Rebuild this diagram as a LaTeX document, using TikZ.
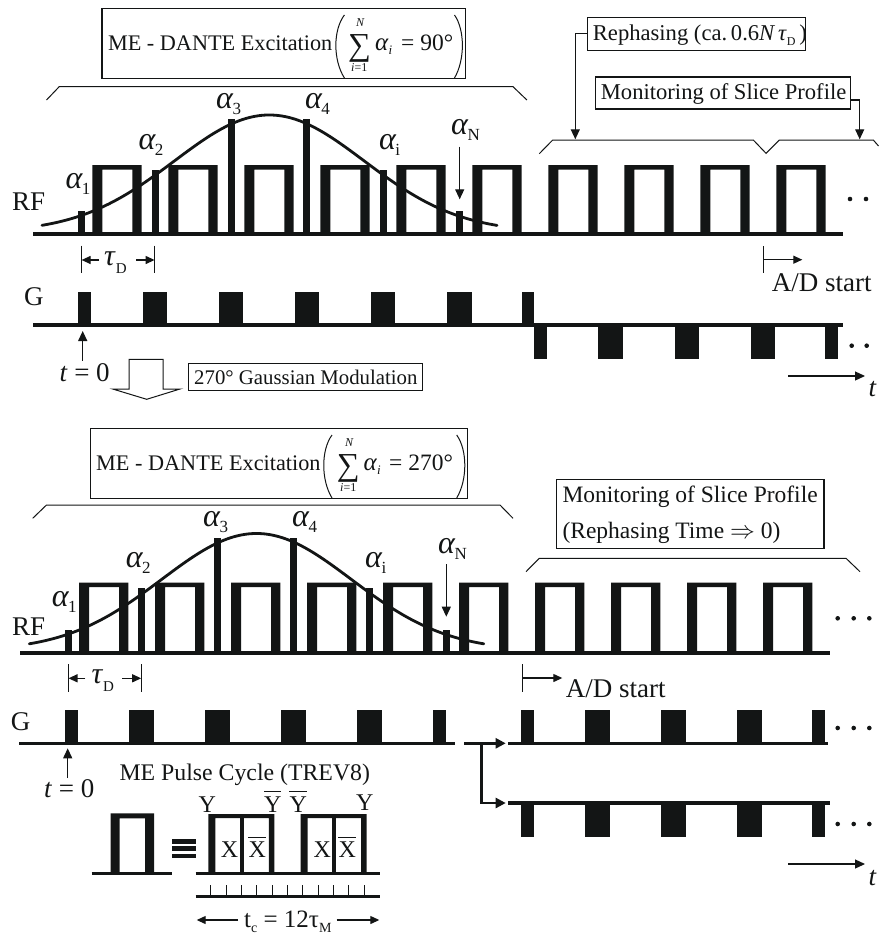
\documentclass[tikz,border=0pt]{standalone}
\usepackage{fontspec}
\setmainfont{Liberation Serif}
\usetikzlibrary{arrows.meta}
\definecolor{ink}{HTML}{131515}
\newcommand{\fs}[1]{\fontsize{#1}{#1}\selectfont}
\newcommand{\alf}[1]{\fs{32}\textit{α}\raisebox{-6pt}{\fs{17}\kern-1pt #1}}
\newcommand{\taud}{\fs{30}\textit{τ}\raisebox{-8pt}{\fs{15}D}}
\newcommand{\rfcell}[3]{\fill[ink,even odd rule] (#1,#2) rectangle (#1+49.4,#3) (#1+10,#2) rectangle (#1+40,#3+4.5);}
\tikzset{
 lab/.style={inner sep=0,anchor=base west,text=ink},
 t22/.style={lab,font=\fs{22.6}},
 t23/.style={lab,font=\fs{23.5}},
 t26/.style={lab,font=\fs{27}},
 t24/.style={lab,font=\fs{24}},
 framed/.style={draw=ink,line width=1.1pt,inner sep=0,fill=white},
 thin line/.style={draw=ink,line width=1pt},
 rail/.style={draw=ink,line width=3.6pt},
 tiparrow/.style={draw=ink,line width=1.2pt,-{Triangle[length=10pt,width=9pt]}},
 smalltip/.style={draw=ink,line width=1.2pt,-{Triangle[length=9pt,width=8pt]}},
 paren/.style={draw=ink,line width=1pt},
 gauss/.style={draw=ink,line width=2.8pt,line cap=round},
 dotmark/.style={fill=ink,circle,inner sep=0,minimum size=4.6pt},
}
\begin{document}
\begin{tikzpicture}[x=1pt,y=-1pt]
\useasboundingbox (0,0) rectangle (879,937);
% ---------- TOP ----------
\node[framed,minimum width=363.6pt,minimum height=70.4pt] (exc1) at (283.8,43.5) {};
\node[lab,font=\fs{22.25}] (exc1t) at (107.8,50) {ME - DANTE Excitation};
\node[lab,font=\fs{32}] (sum1) at (348,55.5) {∑};
\node[lab,font=\fs{12}\itshape] (sumN1) at (356,26.5) {N};
\node[lab,font=\fs{12}] (sumi1) at (351,71.5) {\textit{i}=1};
\node[lab,font=\fs{25}] (ai1) at (375,50) {\textit{α}\raisebox{-4pt}{\fs{13}\textit{i}}};
\node[t23] (eq1) at (401,50) {= 90°};
\draw[paren] (344.4,15) .. controls (333,30) and (333,60) .. (344.4,78);
\draw[paren] (454.5,15) .. controls (465,30) and (465,60) .. (454.5,78);
\draw[thin line] (46.5,100) -- (59.2,86.7) -- (513,86.7) -- (526.9,100);
% RF
\foreach \k in {0,...,9} {\rfcell{92.3+76*\k}{234}{165}}
\foreach \a/\t in {77.8/211,151.6/170,228/119,303/119,379.5/170,455.6/211} {\fill[ink] (\a,234) rectangle (\a+7,\t);}
\draw[rail] (33,234) -- (843,234);
\draw[gauss,domain=42:497,samples=90,smooth] plot (\x,{232-117*exp(-0.5*((\x-269.3)/95)^2)});
\node[t26] (rf1) at (12,210) {RF};
\node[lab] (a11) at (65.4,188) {\alf{1}};
\node[lab] (a12) at (138.4,149) {\alf{2}};
\node[lab] (a13) at (216,108) {\alf{3}};
\node[lab] (a14) at (304.8,108) {\alf{4}};
\node[lab] (a1i) at (378.8,149) {\alf{i}};
\node[lab] (a1N) at (451,134) {\alf{N}};
\coordinate (a1Ntip) at (459.7,199.3);
\draw[tiparrow] (459.7,146.7) -- (a1Ntip);
% tau
\coordinate (t1a) at (81.6,260); \coordinate (t1b) at (154.6,260);
\draw[draw=ink,line width=1pt] (81.6,245.7) -- (81.6,273) (154.6,245.7) -- (154.6,273);
\draw[smalltip] (99,260) -- (t1a);
\draw[smalltip] (136,260) -- (t1b);
\node[lab] (tau1) at (104,265) {\taud};
% right top
\node[framed,minimum width=218pt,minimum height=33pt] (reph) at (696.3,33.8) {};
\node[t22] (repht) at (592.7,40.7) {Rephasing (ca.\,0.6\textit{N\,τ}\raisebox{-5pt}{\fs{12}D}\,)};
\node[framed,minimum width=254.6pt,minimum height=32pt] (mon) at (723,93) {};
\node[t22] (mont) at (600.7,99.3) {Monitoring of Slice Profile};
\coordinate (rephtip) at (575.3,139.3);
\coordinate (montip) at (859.7,139.3);
\draw[tiparrow] (reph.west) -| (rephtip);
\draw[tiparrow] ([yshift=-7pt]mon.east) -| (montip);
\draw[thin line] (539.3,153.7) -- (552.7,140) -- (753.3,140) -- (766,153.3) -- (779.3,140) -- (873.3,140) -- (878.5,146);
\node[dotmark] (d1) at (850,199) {};
\node[dotmark] (d2) at (866,199) {};
% A/D
\coordinate (ad1) at (802.3,259.7);
\draw[draw=ink,line width=1pt] (763,246) -- (763,272.7);
\draw[smalltip] (763,259.7) -- (ad1);
\node[t26] (adt1) at (771.7,291.7) {A/D start};
% G
\draw[rail] (33,325) -- (843,325);
\foreach \a/\b in {78/91,142.7/167.3,218.7/243.3,294.7/319.3,370.7/395.3,446.7/471.7,522.3/534.3} {\fill[ink] (\a,325) rectangle (\b,291.7);}
\foreach \a/\b in {534.3/547,598.3/623,674.7/699.3,750.7/775.3,825.3/838.3} {\fill[ink] (\a,325) rectangle (\b,359.3);}
\node[t26] (g1) at (24,305) {G};
\node[dotmark] (d3) at (851.7,345.7) {};
\node[dotmark] (d4) at (866.7,345.7) {};
\coordinate (t0tip) at (82.7,331);
\draw[tiparrow,line width=1.3pt] (82.7,360.7) -- (t0tip);
\node[t26] (t01) at (59.3,381) {\textit{t} = 0};
\coordinate (tr1) at (865,376);
\draw[tiparrow] (788.3,376) -- (tr1);
\node[t26] (tl1) at (868.3,396.7) {\textit{t}};
% hollow arrow and gaussian label
\draw[draw=ink,line width=1pt,fill=white] (129,389) -- (129,359.3) -- (163,359.3) -- (163,389) -- (180,389) -- (146.7,399.3) -- (112.7,389) -- cycle;
\node[framed,minimum width=234pt,minimum height=26.3pt] (gm) at (305.7,376.9) {};
\node[lab,font=\fs{20.8}] (gmt) at (194,384.3) {270° Gaussian Modulation};
% ---------- BOTTOM ----------
\node[framed,minimum width=376.4pt,minimum height=69.6pt] (exc2) at (279,463.5) {};
\node[lab,font=\fs{22.25}] (exc2t) at (96,470) {ME - DANTE Excitation};
\node[lab,font=\fs{32}] (sum2) at (336.7,475.5) {∑};
\node[lab,font=\fs{12}\itshape] (sumN2) at (345,446.5) {N};
\node[lab,font=\fs{12}] (sumi2) at (340,491.5) {\textit{i}=1};
\node[lab,font=\fs{25}] (ai2) at (363.5,470) {\textit{α}\raisebox{-4pt}{\fs{13}\textit{i}}};
\node[t23] (eq2) at (389,470) {= 270°};
\draw[paren] (332,435) .. controls (321,450) and (321,480) .. (332,498);
\draw[paren] (456.7,435) .. controls (467.5,450) and (467.5,480) .. (456.7,498);
\draw[thin line] (32.7,518.3) -- (46.5,505) -- (500,505) -- (513,518.3);
% monitoring
\node[framed,minimum width=267.3pt,minimum height=69pt] (mon2) at (690.3,513.8) {};
\node[t23] (mon2a) at (562.3,502.3) {Monitoring of Slice Profile};
\node[t23] (mon2b) at (562.3,538.3) {(Rephasing Time $\Rightarrow$ 0)};
\draw[thin line] (526,571.7) -- (539.3,558.3) -- (846,558.3) -- (860,571.7);
% RF
\foreach \k in {0,...,9} {\rfcell{79+76*\k}{652.7}{582.7}}
\foreach \a/\t in {65/629.5,138.4/588,214.4/538,289.6/538,366/588,442.5/629.5} {\fill[ink] (\a,652.7) rectangle (\a+7,\t);}
\draw[rail] (20,652.7) -- (830,652.7);
\draw[gauss,domain=29.3:483.8,samples=90,smooth] plot (\x,{650.5-117*exp(-0.5*((\x-256.5)/95)^2)});
\node[t26] (rf2) at (12,635) {RF};
\node[lab] (a21) at (51.6,606) {\alf{1}};
\node[lab] (a22) at (125.7,567) {\alf{2}};
\node[lab] (a23) at (203,526) {\alf{3}};
\node[lab] (a24) at (292,526) {\alf{4}};
\node[lab] (a2i) at (365,567) {\alf{i}};
\node[lab] (a2N) at (438,553) {\alf{N}};
\coordinate (a2Ntip) at (446.3,616.7);
\draw[tiparrow] (446.3,564) -- (a2Ntip);
\node[dotmark] (d5) at (837.7,618.3) {};
\node[dotmark] (d6) at (853.7,618.3) {};
\node[dotmark] (d7) at (869.3,618.3) {};
% tau
\coordinate (t2a) at (68.5,678.3); \coordinate (t2b) at (141.2,678.3);
\draw[draw=ink,line width=1pt] (68.5,664.3) -- (68.5,691.7) (141.2,664.3) -- (141.2,691.7);
\draw[smalltip] (85.4,678.3) -- (t2a);
\draw[smalltip] (122,678.3) -- (t2b);
\node[lab] (tau2) at (91.3,683.5) {\taud};
% A/D
\coordinate (ad2) at (562.3,678);
\draw[draw=ink,line width=1pt] (522.7,664.3) -- (522.7,691.7);
\draw[smalltip] (522.7,678) -- (ad2);
\node[t26] (adt2) at (565.7,697.3) {A/D start};
% G main
\draw[rail] (19.3,743.3) -- (455,743.3);
\foreach \a/\b in {64.7/77.8,129/154,205/229.7,281/305.8,357/382,433/446.3} {\fill[ink] (\a,743.3) rectangle (\b,710);}
\node[t26] (g2) at (10.7,730) {G};
% branch
\coordinate (branch) at (481.3,743.3);
\coordinate (g2a) at (505.7,743.3);
\coordinate (g2b) at (505.7,803);
\draw[draw=ink,line width=2.4pt,-{Triangle[length=10pt,width=10pt]}] (464.3,743.3) -- (g2a);
\draw[draw=ink,line width=2.4pt,-{Triangle[length=10pt,width=10pt]}] (branch) |- (g2b);
% G upper
\draw[rail] (508.3,743.3) -- (828.3,743.3);
\foreach \a/\b in {520.7/533.7,585.3/610,661.3/686,737.3/762,812/825} {\fill[ink] (\a,743.3) rectangle (\b,710);}
\node[dotmark] (d8) at (837.7,728) {};
\node[dotmark] (d9) at (853.7,728) {};
\node[dotmark] (d10) at (869.3,728) {};
% G lower
\draw[rail] (508.3,803) -- (830,803);
\foreach \a/\b in {520.7/533.7,585.3/610,661.3/686,737.3/762,812/825} {\fill[ink] (\a,803) rectangle (\b,837.3);}
\node[dotmark] (d11) at (837.7,824) {};
\node[dotmark] (d12) at (853.7,824) {};
\node[dotmark] (d13) at (869.3,824) {};
\coordinate (tr2) at (865,864);
\draw[tiparrow] (788.3,864) -- (tr2);
\node[t26] (tl2) at (868.3,885) {\textit{t}};
\coordinate (t0tip2) at (67.7,748.3);
\draw[tiparrow,line width=1.3pt] (67.7,778) -- (t0tip2);
\node[t26] (t02) at (44,797.7) {\textit{t} = 0};
% ME pulse cycle
\node[lab,font=\fs{23.8}] (mec) at (119.3,780) {ME Pulse Cycle (TREV8)};
\fill[ink,even odd rule] (110.7,873.3) rectangle (154,813.3) (119.7,873.3) rectangle (145,818.3);
\draw[draw=ink,line width=2.6pt] (91.7,873.3) -- (172,873.3);
\fill[ink] (172.3,839.3) rectangle (195.7,844);
\fill[ink] (172.3,846) rectangle (195.7,850.7);
\fill[ink] (172.3,853.7) rectangle (195.7,858);
\draw[draw=ink,line width=2.6pt] (195.7,873.3) -- (380,873.3);
\foreach \x in {208.3,300.7} {
 \fill[ink,even odd rule] (\x,873.3) rectangle (\x+66,814) (\x+7,873.3) rectangle (\x+60.5,818);
 \fill[ink] (\x+31.7,873.3) rectangle (\x+35.2,816);
}
\node[t24] (x1) at (220.7,857.3) {X};
\node[t24] (x2) at (248.3,857.3) {X};
\node[t24] (x3) at (313.3,857.3) {X};
\node[t24] (x4) at (338.3,857.3) {X};
\draw[draw=ink,line width=1pt] (248.3,837.3) -- (265.5,837.3) (338.3,837.3) -- (355.5,837.3);
\node[t24] (y1) at (198.3,812.7) {Y};
\node[t24] (y2) at (264,812.7) {Y};
\node[t24] (y3) at (289.3,812.7) {Y};
\node[t24] (y4) at (356,810.7) {Y};
\draw[draw=ink,line width=1pt] (264,791.7) -- (281,791.7) (289.3,791.7) -- (306.5,791.7);
\draw[draw=ink,line width=3pt] (195.7,896.7) -- (380,896.7);
\foreach \k in {0,...,10} {\draw[draw=ink,line width=0.8pt] (210.7+15.33*\k,885) -- (210.7+15.33*\k,896);}
\coordinate (tc1) at (196.7,920); \coordinate (tc2) at (379.3,920);
\draw[smalltip] (238,920) -- (tc1);
\draw[smalltip] (336.7,920) -- (tc2);
\node[lab,font=\fs{25}] (tct) at (244,927.3) {t\raisebox{-5pt}{\fs{14}c} = 12τ\raisebox{-5pt}{\fs{14}M}};
\end{tikzpicture}
\end{document}
